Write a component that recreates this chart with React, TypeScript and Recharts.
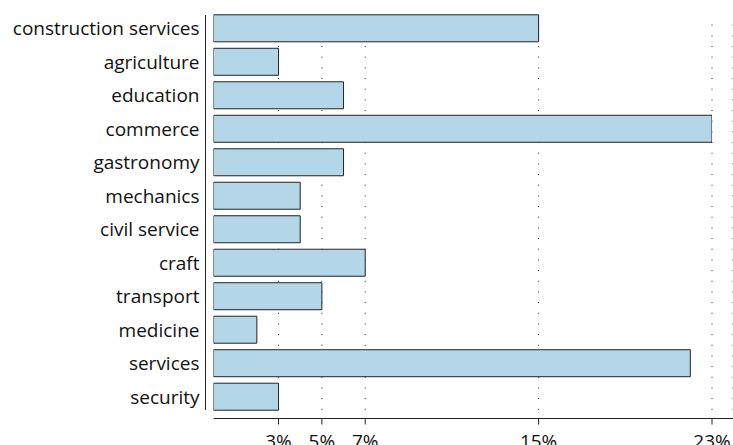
import React from "react";
import { BarChart, Bar, XAxis, YAxis, CartesianGrid } from "recharts";

const categories = [
  "construction services",
  "agriculture",
  "education",
  "commerce",
  "gastronomy",
  "mechanics",
  "civil service",
  "craft",
  "transport",
  "medicine",
  "services",
  "security",
];
const shares = [15, 3, 6, 23, 6, 4, 4, 7, 5, 2, 22, 3];
const xTicks = [3, 5, 7, 15, 23];

const data = categories.map((name, i) => ({ name, share: shares[i] }));

const FONT = "'Open Sans', sans-serif";
const INK = "#111";

export default function App() {
  return (
    <div style={{ width: 733, height: 445 }}>
      <style>{"body{margin:0}"}</style>
      <BarChart
        width={733}
        height={445}
        data={data}
        layout="vertical"
        margin={{ top: 15, right: 0, bottom: 0, left: 0.5 }}
      >
        <CartesianGrid
          horizontal={false}
          vertical
          stroke="#222"
          strokeDasharray="0 9.67 1 0"
        />
        <XAxis
          type="number"
          dataKey="share"
          domain={[0, 23]}
          ticks={xTicks}
          padding={{ left: 8, right: 21 }}
          height={26.5}
          tickSize={6}
          tickMargin={10.5}
          tickFormatter={(v) => `${v}%`}
          axisLine={{ stroke: "#222", strokeDasharray: "0 8 2000" }}
          tickLine={{ stroke: "#222" }}
          tick={{ fill: INK, fontSize: 19, fontFamily: FONT }}
          interval={0}
          allowDataOverflow
        />
        <YAxis
          type="category"
          dataKey="name"
          width={205}
          padding={{ top: -3.2, bottom: 4.8 }}
          tickSize={0}
          tickMargin={6}
          tickLine={false}
          axisLine={{ stroke: "#222", strokeDasharray: "395 2000" }}
          tick={{ fill: INK, fontSize: 19, fontFamily: FONT }}
          interval={0}
        />
        <Bar
          dataKey="share"
          fill="#b3d7e8"
          stroke="#222"
          strokeWidth={1}
          barSize={27}
          isAnimationActive={false}
        />
      </BarChart>
    </div>
  );
}
